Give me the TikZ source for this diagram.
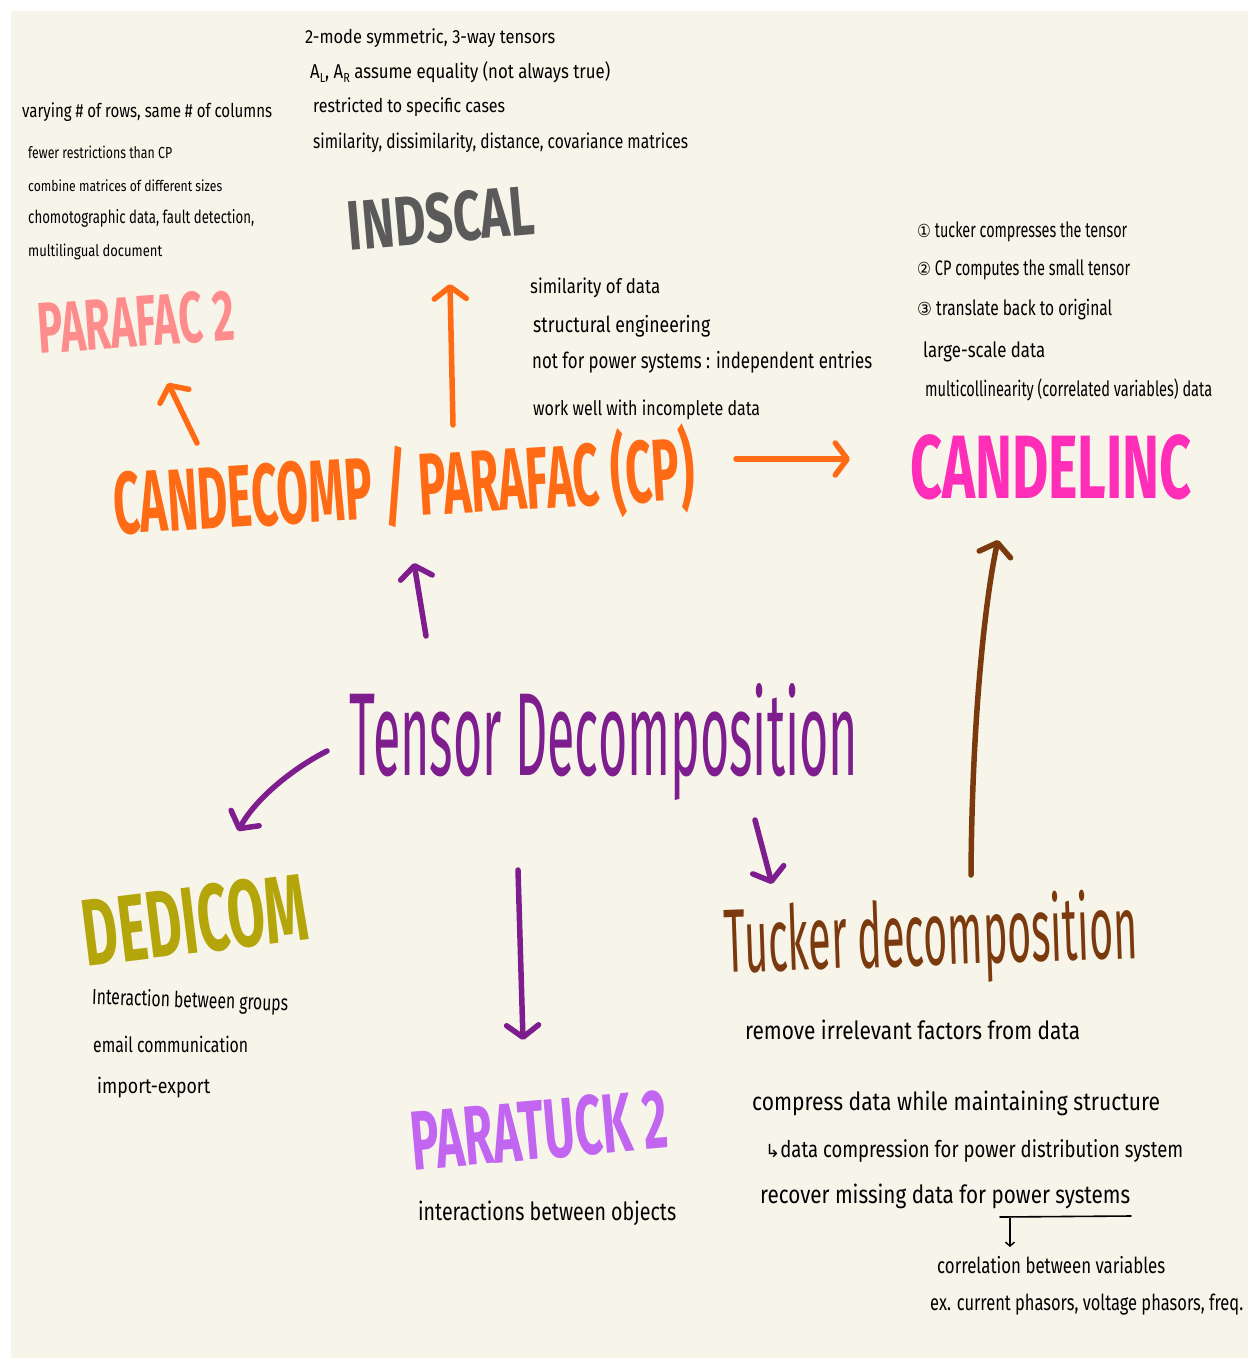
\documentclass[tikz,border=0pt]{standalone}
\usepackage{fontspec}
\usepackage{graphicx}
\setmainfont{Fira Sans}
\newfontfamily\hand[FakeStretch=0.8]{Fira Sans}
\newfontfamily\titlef[FakeStretch=0.8]{Fira Sans}
\newfontfamily\symf{DejaVu Sans}
\usetikzlibrary{arrows.meta}
\definecolor{cream}{HTML}{F7F4E9}
\definecolor{cpink}{HTML}{FF8C8C}
\definecolor{cgray}{HTML}{5A5A5A}
\definecolor{corange}{HTML}{FF6A14}
\definecolor{cmagenta}{HTML}{FF2EB8}
\definecolor{cpurple}{HTML}{7E1E8E}
\definecolor{colive}{HTML}{B4A50A}
\definecolor{cbrown}{HTML}{7B3A0E}
\definecolor{clavender}{HTML}{C266F2}
\newcommand\fitw[2]{\setbox0\hbox{#2}\pgfmathsetmacro\fitratio{#1/\the\wd0}\scalebox{\fitratio}[1]{\box0}}
\newcommand\sbs[1]{\raisebox{-0.35ex}{\fontsize{13}{13}\selectfont #1}}
\tikzset{
  note/.style={anchor=west, inner sep=0pt, text=black},
  ttl/.style={anchor=center, inner sep=0pt},
  arr/.style={line width=5.5pt, line cap=round, line join=round,
    -{Straight Barb[length=12pt, width=32pt, line width=5.5pt, round]}},
}
\newcommand\nf[1]{\hand\fontsize{#1}{#1}\selectfont}
\newcommand\tf[1]{\titlef\bfseries\fontsize{#1}{#1}\selectfont}
\newcommand\tm[1]{\titlef\fontsize{#1}{#1}\selectfont}
\begin{document}
\begin{tikzpicture}[x=1pt, y=-1pt]
\useasboundingbox (0,0) rectangle (1248,1359);
\fill[white] (0,0) rectangle (1248,1359);
\fill[cream] (11,11) rectangle (1248,1358);

% ---------- titles ----------
\node[ttl, text=cpink, rotate=4] (parafac) at (136,322) {\tf{72}\fitw{197}{PARAFAC 2}};
\node[ttl, text=cgray, rotate=5] (indscal) at (441,218) {\tf{70}\fitw{187}{INDSCAL}};
\node[ttl, text=corange, rotate=3.5] (cp) at (404,486) {\tf{88}\fitw{582}{CANDECOMP / PARAFAC (CP)}};
\node[ttl, text=cmagenta] (candelinc) at (1051,467) {\tf{90}\fitw{282}{CANDELINC}};
\node[ttl, text=cpurple] (tensor) at (604,742) {\tm{118}\fitw{508}{Tensor Decomposition}};
\node[ttl, text=colive, rotate=7] (dedicom) at (195,920) {\tf{95}\fitw{226}{DEDICOM}};
\node[ttl, text=clavender, rotate=5] (paratuck) at (539,1130) {\tf{84}\fitw{258}{PARATUCK 2}};
\node[ttl, text=cbrown, rotate=2] (tucker) at (931,940) {\tm{90}\fitw{413}{Tucker decomposition}};

% ---------- PARAFAC 2 notes ----------
\node[note] (p1) at (22,112) {\nf{19}\fitw{250}{varying \# of rows, same \# of columns}};
\node[note] (p2) at (28,152) {\nf{16}\fitw{144}{fewer restrictions than CP}};
\node[note] (p3) at (28,186) {\nf{15}\fitw{194}{combine matrices of different sizes}};
\node[note] (p4) at (28,218) {\nf{18}\fitw{226}{chomotographic data, fault detection,}};
\node[note] (p5) at (28,252) {\nf{16}\fitw{134}{multilingual document}};

% ---------- INDSCAL notes ----------
\node[note] (i1) at (305,38) {\nf{19}\fitw{250}{2-mode symmetric, 3-way tensors}};
\node[note] (i2) at (310,72) {\nf{20}\fitw{300}{A\sbs{L}, A\sbs{R} assume equality (not always true)}};
\node[note] (i3) at (313,107) {\nf{19}\fitw{192}{restricted to specific cases}};
\node[note] (i4) at (313,143) {\nf{20}\fitw{375}{similarity, dissimilarity, distance, covariance matrices}};

% ---------- CP notes ----------
\node[note] (c1) at (530,288) {\nf{20}\fitw{130}{similarity of data}};
\node[note] (c2) at (533,326) {\nf{22}\fitw{177}{structural engineering}};
\node[note] (c3) at (532,362) {\nf{22}\fitw{340}{not for power systems : independent entries}};
\node[note] (c4) at (533,410) {\nf{20}\fitw{227}{work well with incomplete data}};

% ---------- CANDELINC notes ----------
\node[note] (l1) at (917,232) {\nf{21}\fitw{210}{{\symf\fontsize{18}{18}\selectfont ①} tucker compresses the tensor}};
\node[note] (l2) at (917,270) {\nf{21}\fitw{213}{{\symf\fontsize{18}{18}\selectfont ②} CP computes the small tensor}};
\node[note] (l3) at (917,310) {\nf{21}\fitw{195}{{\symf\fontsize{18}{18}\selectfont ③} translate back to original}};
\node[note] (l4) at (923,352) {\nf{21}\fitw{122}{large-scale data}};
\node[note] (l5) at (925,390) {\nf{21}\fitw{287}{multicollinearity (correlated variables) data}};

% ---------- DEDICOM notes ----------
\node[note, rotate=-2] (d1) at (92,998) {\nf{22}\fitw{196}{Interaction between groups}};
\node[note] (d2) at (93,1044) {\nf{21}\fitw{155}{email communication}};
\node[note] (d3) at (97,1088) {\nf{21}\fitw{113}{import-export}};

% ---------- PARATUCK 2 note ----------
\node[note] (pt1) at (418,1213) {\nf{25}\fitw{258}{interactions between objects}};

% ---------- Tucker notes ----------
\node[note] (t1) at (745,1030) {\nf{25}\fitw{335}{remove irrelevant factors from data}};
\node[note] (t2) at (752,1103) {\nf{25}\fitw{408}{compress data while maintaining structure}};
\node[note] (t3) at (765,1151) {\nf{23}\fitw{418}{{\symf\fontsize{18}{18}\selectfont ↳}data compression for power distribution system}};
\node[note] (t4) at (760,1196) {\nf{25}\fitw{370}{recover missing data for power systems}};
\node[note] (t5) at (937,1265) {\nf{22}\fitw{228}{correlation between variables}};
\node[note] (t6) at (930,1305) {\nf{22}\fitw{313}{ex. current phasors, voltage phasors, freq.}};
\coordinate (ul1) at (1000,1217);
\coordinate (ul2) at (1131,1216);
\coordinate (ua) at (1010,1218);
\coordinate (ub) at (1010,1247);
\draw[line width=1.6pt, line cap=round] (ul1) -- (ul2);
\draw[line width=1.4pt, line cap=round, -{Straight Barb[length=4pt, width=9pt]}] (ua) -- (ub);

% ---------- connectors ----------
\coordinate (a1s) at (197,443); \coordinate (a1e) at (168,383);
\coordinate (a2s) at (453,425); \coordinate (a2e) at (450,284);
\coordinate (a3s) at (736,459); \coordinate (a3e) at (850,459);
\coordinate (a4s) at (426,636); \coordinate (a4e) at (414,563);
\coordinate (a5s) at (327,751); \coordinate (a5e) at (238,831);
\coordinate (a6s) at (518,870); \coordinate (a6e) at (523,1040);
\coordinate (a7s) at (755,820); \coordinate (a7e) at (772,884);
\coordinate (a8s) at (971,875); \coordinate (a8e) at (998,540);
\draw[arr, corange] (a1s) -- (a1e);
\draw[arr, corange] (a2s) -- (a2e);
\draw[arr, corange] (a3s) -- (a3e);
\draw[arr, cpurple] (a4s) -- (a4e);
\draw[arr, cpurple] (a5s) .. controls (290,770) and (255,800) .. (a5e);
\draw[arr, cpurple] (a6s) -- (a6e);
\draw[arr, cpurple] (a7s) -- (a7e);
\draw[arr, cbrown] (a8s) .. controls (972,720) and (985,600) .. (a8e);
\end{tikzpicture}
\end{document}
